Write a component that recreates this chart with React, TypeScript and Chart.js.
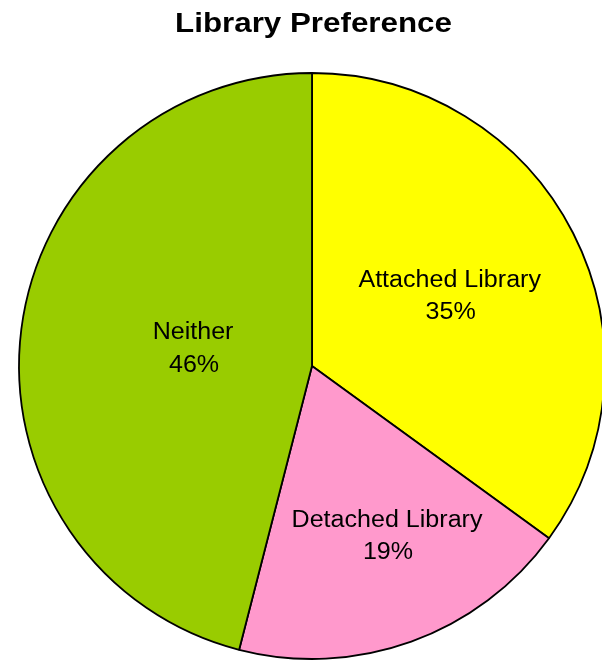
import React, { useEffect, useRef } from "react";
import { Chart, registerables } from "chart.js";

Chart.register(...registerables);

const TITLE = "Library Preference";
const categories = ["Attached Library", "Detached Library", "Neither"];
const values = [35, 19, 46];
const colors = ["#FFFF00", "#FF99CC", "#99CC00"];

// label anchor offsets relative to pie centre, as fraction of the radius (layout only)
const labelOffsets: [number, number][] = [
  [0.47, -0.27],
  [0.256, 0.548],
  [-0.406, -0.091],
];

const FONT = "'Liberation Sans', Arial, Helvetica, sans-serif";

function drawStretched(ctx: CanvasRenderingContext2D, text: string, x: number, y: number, sx: number) {
  ctx.save();
  ctx.translate(x, y);
  ctx.scale(sx, 1);
  ctx.fillText(text, 0, 0);
  ctx.restore();
}

const labelPlugin = {
  id: "pieLabels",
  afterDatasetsDraw(chart: any) {
    const ctx: CanvasRenderingContext2D = chart.ctx;
    const meta = chart.getDatasetMeta(0);
    const total = values.reduce((a, b) => a + b, 0);
    ctx.save();
    ctx.fillStyle = "#000";
    ctx.textAlign = "center";
    ctx.textBaseline = "alphabetic";
    // title
    ctx.font = `bold 27px ${FONT}`;
    drawStretched(ctx, TITLE, 313.5, 32.3, 1.16);
    ctx.font = `23px ${FONT}`;
    meta.data.forEach((arc: any, i: number) => {
      const { x, y, outerRadius } = arc.getProps(["x", "y", "outerRadius"], true);
      const [fx, fy] = labelOffsets[i];
      const lx = x + fx * outerRadius;
      const ly = y + fy * outerRadius;
      const pct = Math.round((values[i] / total) * 100) + "%";
      drawStretched(ctx, categories[i], lx, ly, 1.09);
      drawStretched(ctx, pct, lx + 1, ly + 32.5, 1.09);
    });
    ctx.restore();
  },
};

export default function App() {
  const ref = useRef<HTMLCanvasElement>(null);
  useEffect(() => {
    if (!ref.current) return;
    const chart = new Chart(ref.current, {
      type: "pie",
      data: {
        labels: categories,
        datasets: [
          {
            data: values,
            backgroundColor: colors,
            borderColor: "#000000",
            borderWidth: 1.8,
          },
        ],
      },
      options: {
        responsive: false,
        animation: false,
        devicePixelRatio: 1,
        radius: 293,
        layout: { padding: { top: 73, left: 19, right: 17, bottom: 18 } },
        plugins: {
          legend: { display: false },
          title: { display: false },
          tooltip: { enabled: false },
        },
      } as any,
      plugins: [labelPlugin],
    });
    return () => chart.destroy();
  }, []);
  return (
    <div style={{ position: "fixed", left: 0, top: 0, width: 622, height: 677, background: "#fff" }}>
      <canvas ref={ref} width={622} height={677} style={{ display: "block" }} />
    </div>
  );
}
